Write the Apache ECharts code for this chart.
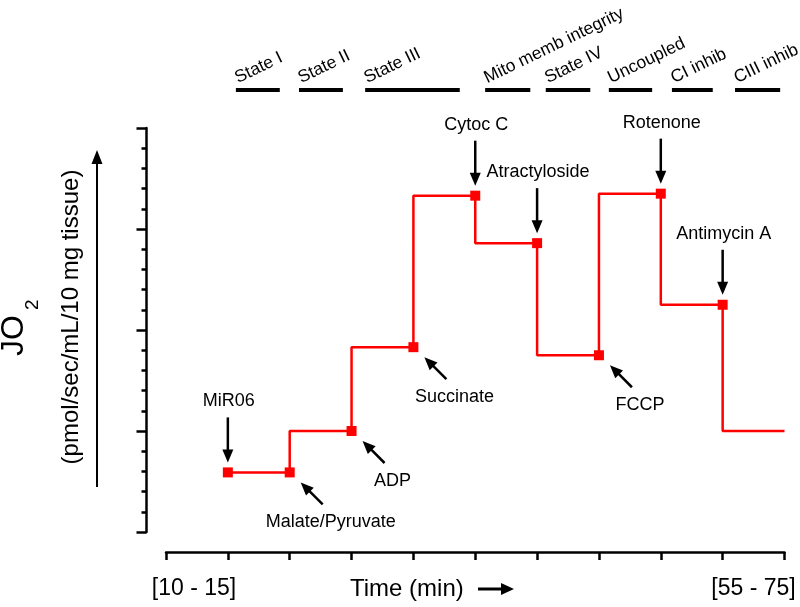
<!DOCTYPE html>
<html>
<head>
<meta charset="utf-8">
<script src="https://cdn.jsdelivr.net/npm/echarts@6/dist/echarts.min.js"></script>
<style>html,body{margin:0;padding:0;background:#fff}#c{width:800px;height:607px}</style>
</head>
<body>
<div id="c"></div>
<script>
// ---- data ----
const timeX = [1, 2, 3, 4, 5, 6, 7, 8, 9, 10];
const jo2 = [0.59, 0.59, 1.0, 1.83, 3.33, 2.86, 1.75, 3.35, 2.25, 1.0];
const addLabels = ['MiR06', 'Malate/Pyruvate', 'ADP', 'Succinate', 'Cytoc C', 'Atractyloside', 'FCCP', 'Rotenone', 'Antimycin A', ''];
const addArrow = ['down', 'diag', 'diag', 'diag', 'down', 'down', 'diag', 'down', 'down', ''];
const stateNames = ['State I', 'State II', 'State III', 'Mito memb integrity', 'State IV', 'Uncoupled', 'CI inhib', 'CIII inhib'];
const stateStart = [1.13, 2.15, 3.22, 5.16, 6.14, 7.16, 8.18, 9.20];
const stateEnd = [1.84, 2.86, 4.75, 5.89, 6.86, 7.86, 8.84, 9.93];
const xEndLabels = ['[10 - 15]', '[55 - 75]'];
const xTitle = 'Time (min)';
const yTitle = 'JO';
const yTitleSub = '2';
const yUnits = '(pmol/sec/mL/10 mg tissue)';

const FONT = 'Liberation Sans, Arial, sans-serif';
const chart = echarts.init(document.getElementById('c'), null, {renderer: 'canvas'});

const seriesData = timeX.map((x, i) => {
  const item = {value: [x, jo2[i]]};
  if (!addLabels[i]) item.symbol = 'none';
  return item;
});

const axLine = {show: true, lineStyle: {color: '#000', width: 2.5}};

chart.setOption({
  animation: false,
  backgroundColor: '#fff',
  grid: [
    {left: 166, right: 15.5, top: 128, bottom: 75},   // data
    {left: 146.5, right: 15.5, top: 128, bottom: 75}, // y axis display
    {left: 166, right: 15.5, top: 128, bottom: 55}    // x axis display
  ],
  xAxis: [
    {gridIndex: 0, type: 'value', min: 0, max: 10, interval: 1, show: false},
    {gridIndex: 1, type: 'value', min: 0, max: 10, interval: 1, show: false},
    {gridIndex: 2, type: 'value', min: 0, max: 10, interval: 1,
      axisLine: axLine,
      axisTick: {show: true, length: 8, lineStyle: {color: '#000', width: 2.5}},
      axisLabel: {show: false}, splitLine: {show: false}}
  ],
  yAxis: [
    {gridIndex: 0, type: 'value', min: 0, max: 4, interval: 1, show: false},
    {gridIndex: 1, type: 'value', min: 0, max: 4, interval: 1,
      axisLine: axLine,
      axisTick: {show: true, length: 10, lineStyle: {color: '#000', width: 2.5}},
      minorTick: {show: true, splitNumber: 5, length: 5, lineStyle: {color: '#000', width: 2.5}},
      axisLabel: {show: false}, splitLine: {show: false}},
    {gridIndex: 2, type: 'value', min: 0, max: 4, interval: 1, show: false}
  ],
  series: [{
    type: 'line',
    xAxisIndex: 0, yAxisIndex: 0,
    step: 'start',
    data: seriesData,
    symbol: 'rect',
    symbolSize: 10,
    showAllSymbol: true,
    itemStyle: {color: '#ff0000'},
    lineStyle: {color: '#ff0000', width: 2.5},
    z: 3
  }]
});

function arrow(x1, y1, x2, y2, w, headLen, headHalf) {
  const dx = x2 - x1, dy = y2 - y1;
  const L = Math.sqrt(dx * dx + dy * dy);
  const ux = dx / L, uy = dy / L;
  const bx = x2 - ux * headLen, by = y2 - uy * headLen;
  const px = -uy, py = ux;
  return [
    {type: 'line', shape: {x1: x1, y1: y1, x2: bx + ux, y2: by + uy}, style: {stroke: '#000', lineWidth: w}, silent: true},
    {type: 'polygon', shape: {points: [[x2, y2], [bx + px * headHalf, by + py * headHalf], [bx - px * headHalf, by - py * headHalf]]}, style: {fill: '#000'}, silent: true}
  ];
}

function txt(x, y, s, size, align, valign, rot) {
  return {type: 'text', x: x, y: y, rotation: rot || 0, silent: true,
    style: {text: s, fill: '#000', font: size + 'px ' + FONT, align: align, verticalAlign: valign}};
}

const g = [];
// annotations
timeX.forEach((x, i) => {
  if (!addLabels[i]) return;
  const p = chart.convertToPixel({gridIndex: 0}, [x, jo2[i]]);
  if (addArrow[i] === 'down') {
    g.push(...arrow(p[0], p[1] - 55, p[0], p[1] - 10, 2.5, 13, 5.5));
    g.push(txt(p[0] + 1, p[1] - 71, addLabels[i], 18, 'center', 'middle'));
  } else {
    g.push(...arrow(p[0] + 33, p[1] + 32, p[0] + 11, p[1] + 10, 2.5, 13, 5.5));
    g.push(txt(p[0] + 41, p[1] + 50, addLabels[i], 18, 'center', 'middle'));
  }
});
// state bars
stateNames.forEach((s, i) => {
  const a = chart.convertToPixel({gridIndex: 0}, [stateStart[i], 0])[0];
  const b = chart.convertToPixel({gridIndex: 0}, [stateEnd[i], 0])[0];
  g.push({type: 'line', shape: {x1: a, y1: 90, x2: b, y2: 90}, style: {stroke: '#000', lineWidth: 4}, silent: true});
  g.push(txt(a + 4, 87, s, 17.5, 'left', 'bottom', 0.45));
});
// x axis texts
const x0 = chart.convertToPixel({gridIndex: 0}, [0, 0])[0];
const x10 = chart.convertToPixel({gridIndex: 0}, [10, 0])[0];
g.push(txt(x0 + 28, 589, xEndLabels[0], 23, 'center', 'middle'));
g.push(txt(x10 - 31, 589, xEndLabels[1], 23, 'center', 'middle'));
g.push(txt(350, 589, xTitle, 24, 'left', 'middle'));
g.push(...arrow(478, 589, 514, 589, 3, 13, 6));
// y axis texts
g.push(txt(14, 356, yTitle, 32, 'left', 'middle', Math.PI / 2));
g.push(txt(32.5, 310, yTitleSub, 19, 'left', 'middle', Math.PI / 2));
g.push(txt(71, 317, yUnits, 24, 'center', 'middle', Math.PI / 2));
g.push(...arrow(97, 487, 97, 150, 2, 14, 5.5));

chart.setOption({graphic: {elements: g}});
</script>
</body>
</html>
